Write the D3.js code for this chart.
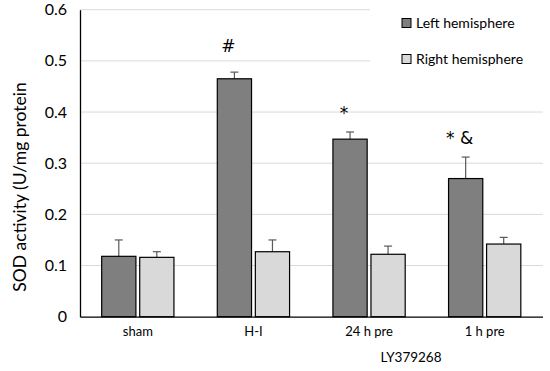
<!DOCTYPE html>
<html><head><meta charset="utf-8">
<script src="https://cdn.jsdelivr.net/npm/d3@7"></script>
<style>body{margin:0;background:#fff}svg{display:block}text{font-family:Lato,"Open Sans",sans-serif}</style>
</head><body>
<svg id="c" width="550" height="371"></svg>
<script>
const categories = ["sham", "H-I", "24 h pre", "1 h pre"];
const seriesNames = ["Left hemisphere", "Right hemisphere"];
const leftValues = [0.118, 0.465, 0.347, 0.270];
const leftErrors = [0.032, 0.013, 0.014, 0.042];
const rightValues = [0.116, 0.127, 0.122, 0.142];
const rightErrors = [0.011, 0.023, 0.016, 0.013];
const yTicks = [0, 0.1, 0.2, 0.3, 0.4, 0.5, 0.6];
const annotations = ["", "#", "*", "* &"];
const groupLabel = "LY379268";
const yTitle = "SOD activity (U/mg protein";
const colors = ["#7f7f7f", "#d9d9d9"];

const svg = d3.select("#c");
const m = {l: 80};
const x = d3.scaleBand().domain(categories).range([m.l, 542.5]).paddingInner(0).paddingOuter(0);
const y = d3.scaleLinear().domain([0, 0.6]).range([316.7, 9.7]);
const xs = d3.scaleBand().domain([0, 1]).range([0, x.bandwidth()]).paddingInner(0.1).paddingOuter(0.57);

// gridlines
svg.append("g").selectAll("line").data(yTicks.filter(d => d > 0)).join("line")
  .attr("x1", m.l).attr("x2", d => d >= 0.5 ? 370 : 543)
  .attr("y1", d => y(d)).attr("y2", d => y(d))
  .attr("stroke", "#d9d9d9").attr("stroke-width", 1);

// y axis
const ya = d3.axisLeft(y).tickValues(yTicks).tickSize(0).tickPadding(13).tickFormat(d => d === 0 ? "0" : d3.format(".1f")(d));
const yg = svg.append("g").attr("transform", `translate(${m.l},0)`).call(ya);
yg.select(".domain").attr("stroke", "#000").attr("stroke-width", 1.3);
yg.selectAll("text").attr("font-size", 16).attr("fill", "#000");

// bars
const data = [];
categories.forEach((c, i) => {
  data.push({c, s: 0, v: leftValues[i], e: leftErrors[i]});
  data.push({c, s: 1, v: rightValues[i], e: rightErrors[i]});
});
const bg = svg.append("g");
bg.selectAll("line.err").data(data).join("line").attr("class", "err")
  .attr("x1", d => x(d.c) + xs(d.s) + xs.bandwidth() / 2)
  .attr("x2", d => x(d.c) + xs(d.s) + xs.bandwidth() / 2)
  .attr("y1", d => y(d.v)).attr("y2", d => y(d.v + d.e))
  .attr("stroke", "#595959").attr("stroke-width", 1.2);
bg.selectAll("line.cap").data(data).join("line").attr("class", "cap")
  .attr("x1", d => x(d.c) + xs(d.s) + xs.bandwidth() / 2 - 4)
  .attr("x2", d => x(d.c) + xs(d.s) + xs.bandwidth() / 2 + 4)
  .attr("y1", d => y(d.v + d.e)).attr("y2", d => y(d.v + d.e))
  .attr("stroke", "#595959").attr("stroke-width", 1.2);
bg.selectAll("rect").data(data).join("rect")
  .attr("x", d => x(d.c) + xs(d.s)).attr("width", xs.bandwidth())
  .attr("y", d => y(d.v)).attr("height", d => y(0) - y(d.v))
  .attr("fill", d => colors[d.s]).attr("stroke", "#000").attr("stroke-width", 1.2);

// x axis
const xa = d3.axisBottom(x).tickSize(0).tickPadding(10);
const xg = svg.append("g").attr("transform", `translate(0,${y(0)})`).call(xa);
xg.select(".domain").attr("stroke", "#000").attr("stroke-width", 1.3);
xg.selectAll("text").attr("font-size", 13).attr("fill", "#000");

svg.append("text").attr("x", 411).attr("y", 362).attr("text-anchor", "middle")
  .attr("font-size", 13.5).text(groupLabel);

// annotations
svg.append("g").selectAll("text").data(categories).join("text")
  .attr("x", (d, i) => x(d) + xs(0) + xs.bandwidth() / 2 - 6)
  .attr("y", (d, i) => y(leftValues[i] + leftErrors[i]) - (i === 1 ? 20 : 13))
  .attr("text-anchor", "middle").attr("font-size", 17)
  .style("font-family", "'DejaVu Sans', sans-serif")
  .text((d, i) => annotations[i]);

// y title
svg.append("text").attr("transform", "translate(26,187) rotate(-90)")
  .attr("text-anchor", "middle").attr("font-size", 17.5).text(yTitle);

// legend
const lg = svg.append("g");
seriesNames.forEach((n, i) => {
  const ly = 23 + i * 36;
  lg.append("rect").attr("x", 402).attr("y", ly - 4.5).attr("width", 9).attr("height", 9)
    .attr("fill", colors[i]).attr("stroke", "#000").attr("stroke-width", 1);
  lg.append("text").attr("x", 416).attr("y", ly + 5).attr("font-size", 14).text(n);
});
</script>
</body></html>
